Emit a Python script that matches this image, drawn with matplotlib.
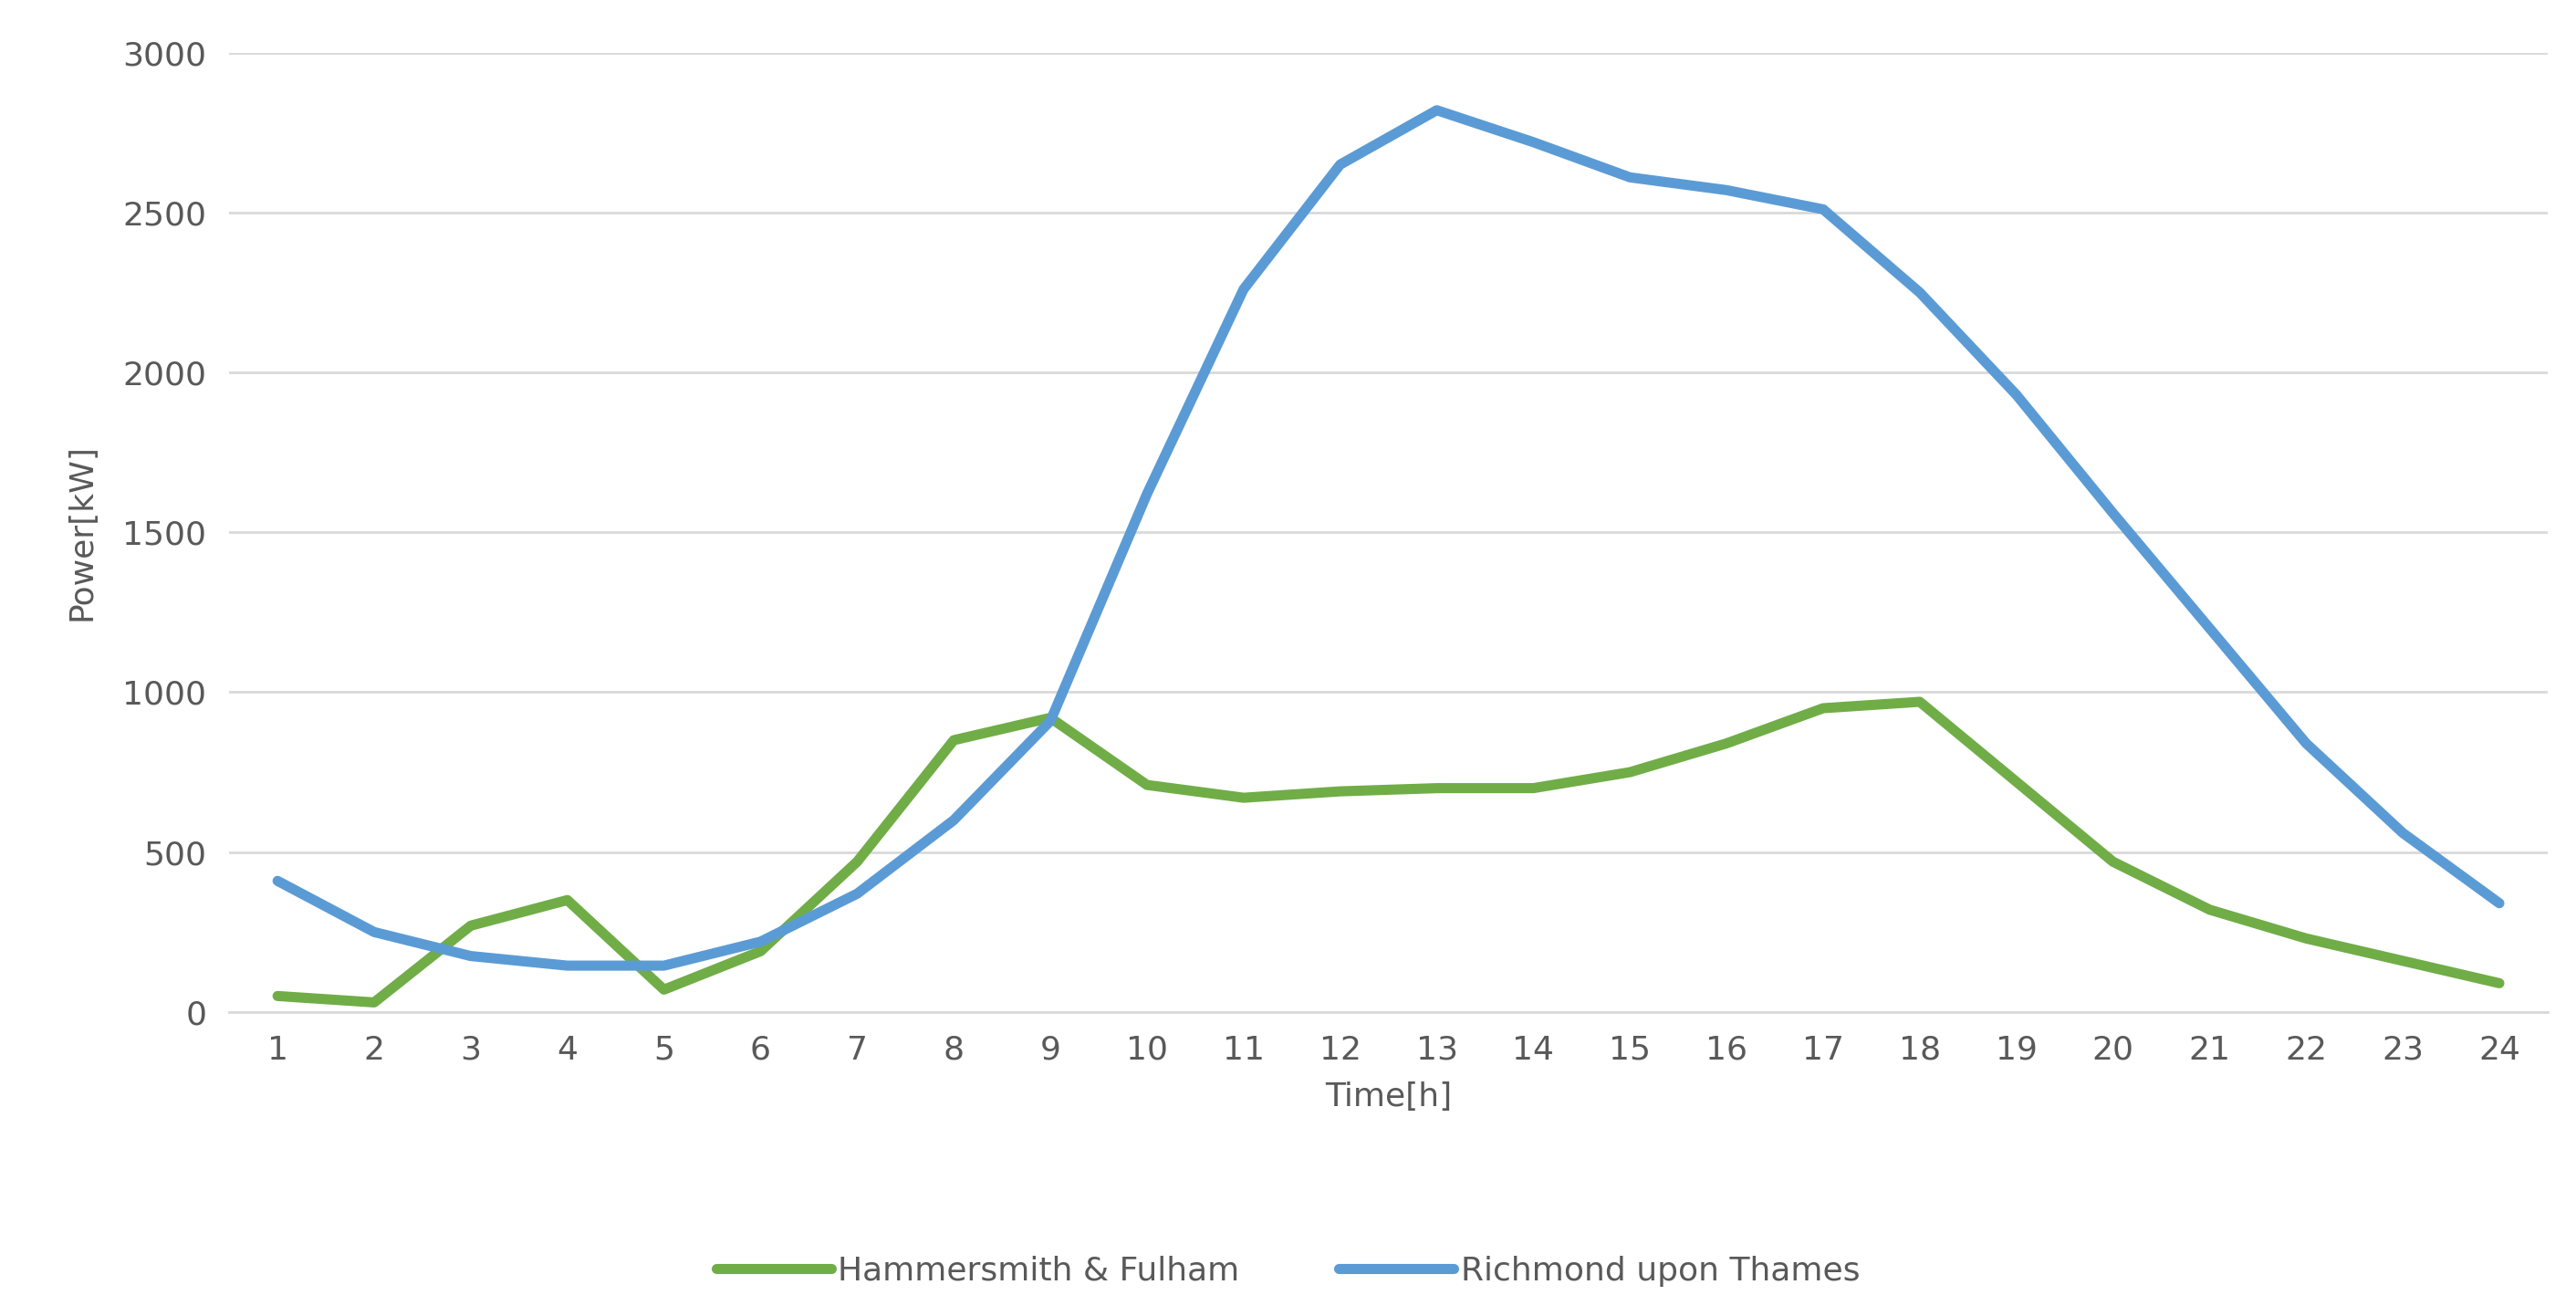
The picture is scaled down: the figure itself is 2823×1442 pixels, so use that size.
import matplotlib.pyplot as plt

hours = list(range(1, 25))
hammersmith = [50, 30, 270, 350, 70, 190, 470, 850, 920, 710, 670, 690,
               700, 700, 750, 840, 950, 970, 720, 470, 320, 230, 160, 90]
richmond = [410, 250, 175, 145, 145, 220, 370, 600, 910, 1620, 2260, 2650,
            2820, 2720, 2610, 2570, 2510, 2250, 1930, 1560, 1200, 840, 560, 340]

fig = plt.figure(figsize=(28.23, 14.42), dpi=100)
ax = fig.add_axes([0.089, 0.231, 0.9, 0.729])

ax.plot(hours, hammersmith, color='#70AD47', lw=8, label='Hammersmith & Fulham', solid_capstyle='round')
ax.plot(hours, richmond, color='#5B9BD5', lw=8, label='Richmond upon Thames', solid_capstyle='round')

ax.set_xlim(0.5, 24.5)
ax.set_ylim(0, 3000)
ax.set_xticks(hours)
ax.set_yticks(range(0, 3001, 500))
ax.grid(axis='y', color='#d9d9d9', lw=2)
ax.set_axisbelow(True)
for s in ['top', 'right', 'left']:
    ax.spines[s].set_visible(False)
ax.spines['bottom'].set_color('#d9d9d9')
ax.spines['bottom'].set_linewidth(2)
ax.tick_params(length=0, labelsize=26, colors='#595959', pad=18)
ax.set_xlabel('Time[h]', fontsize=26, color='#595959', labelpad=12)
ax.set_ylabel('Power[kW]', fontsize=26, color='#595959', labelpad=20)

fig.legend(loc='lower center', bbox_to_anchor=(0.5, 0.0), ncol=2, frameon=False,
           fontsize=26, labelcolor='#595959', handlelength=3.5, handletextpad=0.2,
           columnspacing=3)

plt.savefig('out.png')
